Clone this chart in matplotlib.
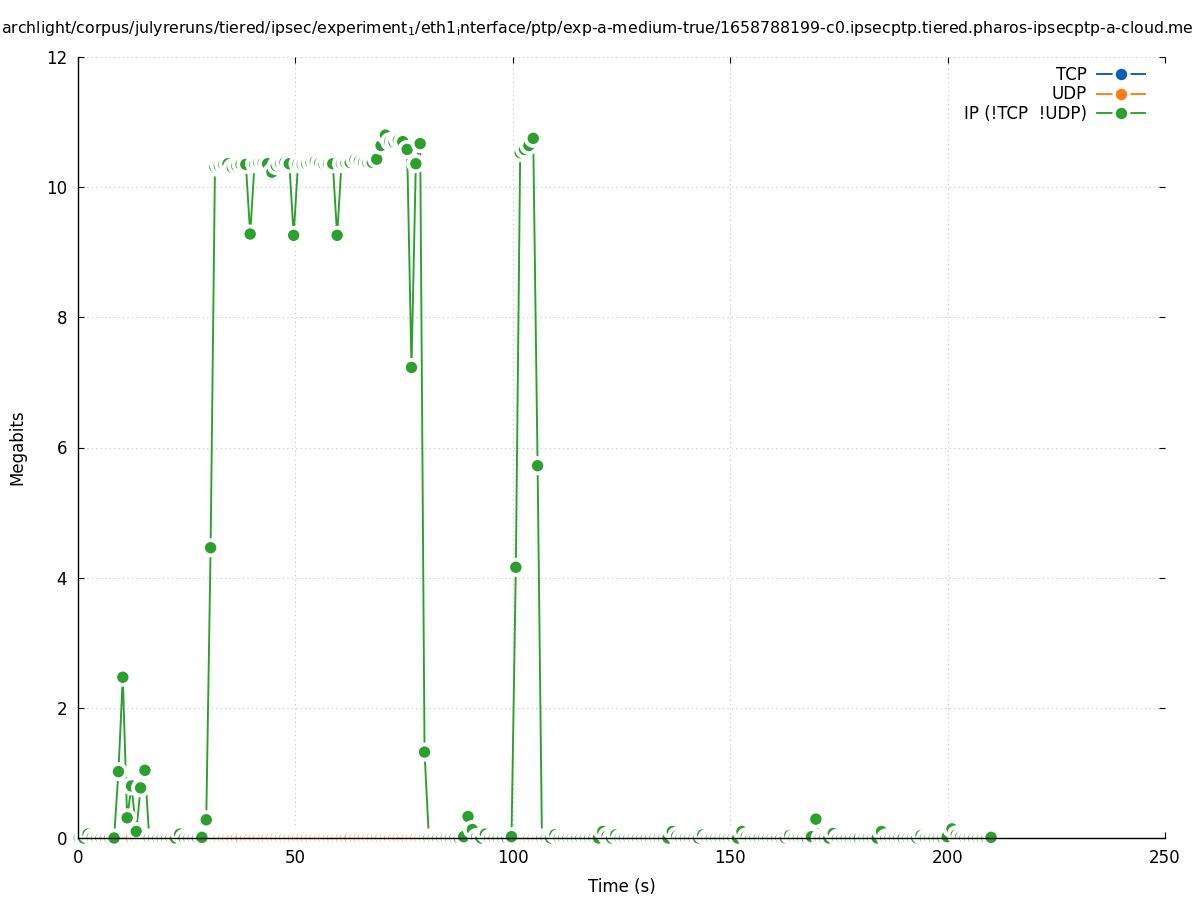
import matplotlib
matplotlib.use("Agg")
import matplotlib.pyplot as plt
from matplotlib.lines import Line2D
from matplotlib.legend_handler import HandlerTuple

# ---------------- data ----------------
times = [
    0.3, 1.3, 2.3, 3.3, 4.3, 5.3, 6.3, 7.3, 8.3, 9.3,
    10.3, 11.3, 12.3, 13.4, 14.4, 15.4, 16.4, 17.4, 18.4, 19.4,
    20.4, 21.4, 22.4, 23.4, 24.4, 25.5, 26.5, 27.5, 28.5, 29.5,
    30.5, 31.5, 32.5, 33.5, 34.5, 35.5, 36.5, 37.5, 38.6, 39.6,
    40.6, 41.6, 42.6, 43.6, 44.6, 45.6, 46.6, 47.6, 48.6, 49.6,
    50.6, 51.6, 52.6, 53.6, 54.6, 55.6, 56.6, 57.6, 58.6, 59.6,
    60.6, 61.6, 62.6, 63.7, 64.7, 65.7, 66.7, 67.7, 68.7, 69.7,
    70.7, 71.7, 72.7, 73.7, 74.7, 75.7, 76.7, 77.7, 78.7, 79.7,
    80.7, 81.7, 82.7, 83.7, 84.7, 85.7, 86.7, 87.7, 88.7, 89.7,
    90.7, 91.7, 92.7, 93.7, 94.7, 95.7, 96.7, 97.7, 98.7, 99.7,
    100.7, 101.7, 102.7, 103.7, 104.7, 105.7, 106.7, 107.7, 108.7, 109.7,
    110.7, 111.7, 112.7, 113.7, 114.7, 115.7, 116.7, 117.7, 118.7, 119.7,
    120.7, 121.7, 122.7, 123.7, 124.7, 125.7, 126.7, 127.7, 128.7, 129.7,
    130.7, 131.7, 132.7, 133.7, 134.7, 135.7, 136.7, 137.7, 138.7, 139.7,
    140.7, 141.7, 142.7, 143.7, 144.7, 145.7, 146.7, 147.7, 148.7, 149.7,
    150.7, 151.7, 152.7, 153.7, 154.7, 155.7, 156.7, 157.7, 158.7, 159.7,
    160.7, 161.7, 162.7, 163.7, 164.7, 165.7, 166.7, 167.7, 168.7, 169.7,
    170.7, 171.7, 172.7, 173.7, 174.7, 175.7, 176.7, 177.7, 178.7, 179.7,
    180.8, 181.8, 182.8, 183.8, 184.8, 185.8, 186.8, 187.8, 188.8, 189.8,
    190.9, 191.9, 192.9, 193.9, 194.9, 195.9, 196.9, 197.9, 198.9, 199.9,
    201.0, 202.0, 203.0, 204.0, 205.0, 206.0, 207.0, 208.0, 209.0, 210.0,
]

tcp_mbits = [
    0, 0, 0, 0, 0, 0, 0, 0, 0, 0,  0, 0, 0, 0, 0, 0, 0, 0, 0, 0,  0, 0, 0, 0, 0, 0, 0, 0, 0, 0,
    0, 0, 0, 0, 0, 0, 0, 0, 0, 0,  0, 0, 0, 0, 0, 0, 0, 0, 0, 0,  0, 0, 0, 0, 0, 0, 0, 0, 0, 0,
    0, 0, 0, 0, 0, 0, 0, 0, 0, 0,  0, 0, 0, 0, 0, 0, 0, 0, 0, 0,  0, 0, 0, 0, 0, 0, 0, 0, 0, 0,
    0, 0, 0, 0, 0, 0, 0, 0, 0, 0,  0, 0, 0, 0, 0, 0, 0, 0, 0, 0,  0, 0, 0, 0, 0, 0, 0, 0, 0, 0,
    0, 0, 0, 0, 0, 0, 0, 0, 0, 0,  0, 0, 0, 0, 0, 0, 0, 0, 0, 0,  0, 0, 0, 0, 0, 0, 0, 0, 0, 0,
    0, 0, 0, 0, 0, 0, 0, 0, 0, 0,  0, 0, 0, 0, 0, 0, 0, 0, 0, 0,  0, 0, 0, 0, 0, 0, 0, 0, 0, 0,
    0, 0, 0, 0, 0, 0, 0, 0, 0, 0,  0, 0, 0, 0, 0, 0, 0, 0, 0, 0,  0, 0, 0, 0, 0, 0, 0, 0, 0, 0,
]

udp_mbits = [
    0, 0, 0, 0, 0, 0, 0, 0, 0, 0,  0, 0, 0, 0, 0, 0, 0, 0, 0, 0,  0, 0, 0, 0, 0, 0, 0, 0, 0, 0,
    0, 0, 0, 0, 0, 0, 0, 0, 0, 0,  0, 0, 0, 0, 0, 0, 0, 0, 0, 0,  0, 0, 0, 0, 0, 0, 0, 0, 0, 0,
    0, 0, 0, 0, 0, 0, 0, 0, 0, 0,  0, 0, 0, 0, 0, 0, 0, 0, 0, 0,  0, 0, 0, 0, 0, 0, 0, 0, 0, 0,
    0, 0, 0, 0, 0, 0, 0, 0, 0, 0,  0, 0, 0, 0, 0, 0, 0, 0, 0, 0,  0, 0, 0, 0, 0, 0, 0, 0, 0, 0,
    0, 0, 0, 0, 0, 0, 0, 0, 0, 0,  0, 0, 0, 0, 0, 0, 0, 0, 0, 0,  0, 0, 0, 0, 0, 0, 0, 0, 0, 0,
    0, 0, 0, 0, 0, 0, 0, 0, 0, 0,  0, 0, 0, 0, 0, 0, 0, 0, 0, 0,  0, 0, 0, 0, 0, 0, 0, 0, 0, 0,
    0, 0, 0, 0, 0, 0, 0, 0, 0, 0,  0, 0, 0, 0, 0, 0, 0, 0, 0, 0,  0, 0, 0, 0, 0, 0, 0, 0, 0, 0,
]

ip_mbits = [
    0.0, 0.0, 0.06, 0.01, 0.0, 0.0, 0.0, 0.0, 0.0, 1.02,
    2.47, 0.31, 0.80, 0.10, 0.77, 1.04, 0.0, 0.0, 0.0, 0.0,
    0.0, 0.0, 0.0, 0.06, 0.0, 0.0, 0.0, 0.0, 0.01, 0.28,
    4.46, 10.31, 10.33, 10.35, 10.36, 10.30, 10.33, 10.35, 10.35, 9.28,
    10.36, 10.37, 10.37, 10.36, 10.23, 10.33, 10.37, 10.38, 10.36, 9.26,
    10.36, 10.35, 10.36, 10.38, 10.39, 10.37, 10.35, 10.36, 10.36, 9.26,
    10.36, 10.37, 10.38, 10.42, 10.40, 10.38, 10.37, 10.38, 10.43, 10.64,
    10.80, 10.70, 10.69, 10.72, 10.70, 10.58, 7.23, 10.36, 10.67, 1.32,
    0.0, 0.0, 0.0, 0.0, 0.0, 0.0, 0.0, 0.0, 0.02, 0.33,
    0.13, 0.01, 0.0, 0.06, 0.0, 0.0, 0.0, 0.0, 0.0, 0.02,
    4.16, 10.53, 10.58, 10.64, 10.75, 5.72, 0.0, 0.0, 0.0, 0.05,
    0.0, 0.0, 0.0, 0.0, 0.0, 0.0, 0.0, 0.0, 0.0, 0.0,
    0.10, 0.03, 0.0, 0.05, 0.0, 0.0, 0.0, 0.0, 0.0, 0.0,
    0.0, 0.0, 0.0, 0.0, 0.0, 0.0, 0.10, 0.03, 0.0, 0.0,
    0.0, 0.0, 0.0, 0.05, 0.0, 0.0, 0.0, 0.0, 0.0, 0.0,
    0.0, 0.0, 0.10, 0.02, 0.0, 0.0, 0.0, 0.0, 0.0, 0.0,
    0.0, 0.0, 0.0, 0.04, 0.0, 0.0, 0.0, 0.0, 0.02, 0.29,
    0.0, 0.0, 0.0, 0.07, 0.0, 0.0, 0.0, 0.0, 0.0, 0.0,
    0.0, 0.0, 0.0, 0.0, 0.10, 0.0, 0.0, 0.0, 0.0, 0.0,
    0.0, 0.0, 0.0, 0.04, 0.0, 0.0, 0.0, 0.0, 0.0, 0.02,
    0.14, 0.05, 0.02, 0.0, 0.0, 0.0, 0.0, 0.0, 0.0, 0.01,
]

series_names = ["TCP", "UDP", "IP (!TCP  !UDP)"]
series_values = [tcp_mbits, udp_mbits, ip_mbits]
series_colors = ["#0a60b0", "#ff7f0e", "#2ca02c"]

title_text = (r"archlight/corpus/julyreruns/tiered/ipsec/experiment$_1$/eth1$_\mathregular{i}$nterface"
              r"/ptp/exp-a-medium-true/1658788199-c0.ipsecptp.tiered.pharos-ipsecptp-a-cloud.me")

x_ticks = [0, 50, 100, 150, 200, 250]
y_ticks = [0, 2, 4, 6, 8, 10, 12]

# ---------------- figure ----------------
W, H = 1197, 900
fig = plt.figure(figsize=(W / 100, H / 100), dpi=100)
ax = fig.add_axes([78 / W, 1 - 838 / H, 1087 / W, 781 / H])

PX = 72 / 100.0  # points per pixel
S_WHITE = (19.0 * PX) ** 2
S_COLOR = (11.4 * PX) ** 2
LW = 1.9 * PX

for i, (vals, col) in enumerate(zip(series_values, series_colors)):
    z = 3 + i
    ax.plot(times, vals, color=col, lw=LW, zorder=z, solid_capstyle="butt")
    xs, ys, ss, cs = [], [], [], []
    for t, v in zip(times, vals):
        xs += [t, t]
        ys += [v, v]
        ss += [S_WHITE, S_COLOR]
        cs += ["white", col]
    ax.scatter(xs, ys, s=ss, c=cs, linewidths=0, zorder=z + 0.5, clip_on=False)

ax.set_xlim(0, 250)
ax.set_ylim(0, 12)
ax.set_xticks(x_ticks)
ax.set_yticks(y_ticks)

for side in ("top", "right"):
    ax.spines[side].set_visible(False)
for side in ("left", "bottom"):
    ax.spines[side].set_linewidth(1.0)
    ax.spines[side].set_color("black")
    ax.spines[side].set_zorder(20)

ax.grid(True, color="#c4c4c4", lw=0.8, linestyle=(0, (1, 3)), zorder=1)
ax.tick_params(direction="in", top=True, right=True, length=4.3, width=0.8,
               labelsize=12, pad=8, zorder=20)

ax.set_xlabel("Time (s)", fontsize=12, labelpad=8)
ax.set_ylabel("Megabits", fontsize=12, labelpad=14)

fig.text(1 / W, 1 - 28 / H, title_text, ha="left", va="center", fontsize=11.3)

# legend
handles = []
for col in series_colors:
    ln = Line2D([], [], color=col, lw=LW)
    wm = Line2D([], [], ls="none", marker="o", markersize=18 * PX,
                markerfacecolor="white", markeredgewidth=0)
    cm = Line2D([], [], ls="none", marker="o", markersize=11.4 * PX,
                markerfacecolor=col, markeredgewidth=0)
    handles.append((ln, wm, cm))

ax.legend(handles, series_names, handler_map={tuple: HandlerTuple(ndivide=1)},
          loc="upper right", bbox_to_anchor=((1145 - 78) / 1087, (838 - 66) / 781),
          frameon=False, markerfirst=False, borderpad=0, borderaxespad=0,
          handlelength=2.88, handletextpad=0.6, labelspacing=0.08, fontsize=12)

fig.savefig("out.png", dpi=100)
